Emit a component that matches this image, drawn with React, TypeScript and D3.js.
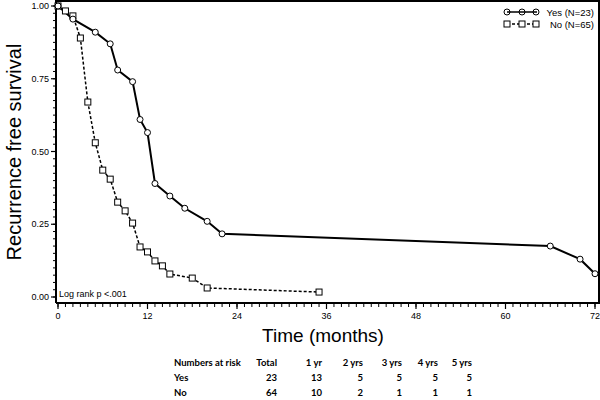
import React from "react";
import * as d3 from "d3";

const yesTime = [0, 2, 5, 7, 8, 10, 11, 12, 13, 15, 17, 20, 22, 66, 70, 72];
const yesSurv = [1.0, 0.955, 0.91, 0.87, 0.78, 0.74, 0.61, 0.565, 0.39, 0.347, 0.305, 0.26, 0.217, 0.175, 0.13, 0.08];
const noTime = [0, 1, 2, 3, 4, 5, 6, 7, 8, 9, 10, 11, 12, 13, 14, 15, 18, 20, 35];
const noSurv = [1.0, 0.983, 0.966, 0.89, 0.67, 0.53, 0.436, 0.405, 0.326, 0.296, 0.254, 0.172, 0.155, 0.124, 0.107, 0.079, 0.065, 0.031, 0.017];

const xTicks = [0, 12, 24, 36, 48, 60, 72];
const yTicks = [0, 0.25, 0.5, 0.75, 1.0];
const yTickLabels = ["0.00", "0.25", "0.50", "0.75", "1.00"];

const legendLabels = ["Yes (N=23)", "No (N=65)"];
const riskHeaders = ["Total", "1 yr", "2 yrs", "3 yrs", "4 yrs", "5 yrs"];
const riskGroups = ["Yes", "No"];
const riskYes = [23, 13, 5, 5, 5, 5];
const riskNo = [64, 10, 2, 1, 1, 1];

export default function App() {
  const x = d3.scaleLinear().domain([0, 72]).range([58, 595]);
  const y = d3.scaleLinear().domain([0, 1]).range([297, 6]);
  const yesPts = yesTime.map((t, i) => [t, yesSurv[i]] as [number, number]);
  const noPts = noTime.map((t, i) => [t, noSurv[i]] as [number, number]);
  const line = d3.line<[number, number]>().x((d) => x(d[0])).y((d) => y(d[1]));

  const minorX = d3.range(0, 73, 1);
  const minorY = d3.range(0, 1.0001, 0.025);
  const axisFont = "'Liberation Sans', Arial, sans-serif";
  const tableFont = "Lato, 'Open Sans', sans-serif";
  const colRight = [277, 322, 363, 402, 438, 472];
  const rows = [riskYes, riskNo];

  const frameL = 56, frameR = 599, frameT = 1, frameB = 303;

  return (
    <svg width={600} height={400} style={{ position: "absolute", left: 0, top: 0, background: "#fff" }}>
      <rect x={0} y={0} width={600} height={400} fill="#fff" />
      {/* frame */}
      <path d={`M${frameL},${frameB}V${frameT}H${frameR}V${frameB}H${frameL}`} fill="none" stroke="#000" strokeWidth={2} />
      {/* y ticks */}
      {minorY.map((v, i) => (
        <line key={"my" + i} x1={frameL} x2={frameL - 3} y1={y(v)} y2={y(v)} stroke="#000" strokeWidth={1} />
      ))}
      {yTicks.map((v, i) => (
        <g key={"yt" + i}>
          <line x1={frameL} x2={frameL - 5} y1={y(v)} y2={y(v)} stroke="#000" strokeWidth={1.2} />
          <text x={49} y={y(v) + 3} textAnchor="end" fontSize={9} fontFamily={axisFont} fill="#000">
            {yTickLabels[i]}
          </text>
        </g>
      ))}
      {/* x ticks */}
      {minorX.map((v, i) => (
        <line key={"mx" + i} x1={x(v)} x2={x(v)} y1={frameB} y2={frameB + 4} stroke="#000" strokeWidth={1} />
      ))}
      {xTicks.map((v, i) => (
        <g key={"xt" + i}>
          <line x1={x(v)} x2={x(v)} y1={frameB} y2={frameB + 6} stroke="#000" strokeWidth={1.2} />
          <text x={x(v)} y={319} textAnchor="middle" fontSize={9} fontFamily={axisFont} fill="#000">
            {v}
          </text>
        </g>
      ))}
      {/* axis titles */}
      <text x={323} y={342} textAnchor="middle" fontSize={19} fontFamily={axisFont} fill="#000">
        Time (months)
      </text>
      <text transform="translate(21,152) rotate(-90)" textAnchor="middle" fontSize={20} fontFamily={axisFont} fill="#000">
        Recurrence free survival
      </text>
      {/* curves */}
      <path d={line(noPts) || ""} fill="none" stroke="#000" strokeWidth={1.5} strokeDasharray="3,2" />
      <path d={line(yesPts) || ""} fill="none" stroke="#000" strokeWidth={2} />
      {noPts.map((d, i) => (
        <rect key={"np" + i} x={x(d[0]) - 3} y={y(d[1]) - 3} width={6} height={6} fill="#fff" stroke="#000" strokeWidth={1} />
      ))}
      {yesPts.map((d, i) => (
        <circle key={"yp" + i} cx={x(d[0])} cy={y(d[1])} r={3} fill="#fff" stroke="#000" strokeWidth={1} />
      ))}
      {/* log rank */}
      <text x={59} y={297} fontSize={9} fontFamily={axisFont} fill="#000">
        Log rank p {"<"}.001
      </text>
      {/* legend */}
      <g>
        <line x1={507} x2={537} y1={12} y2={12} stroke="#000" strokeWidth={1.5} />
        {[507, 522, 536].map((cx, i) => (
          <circle key={"lc" + i} cx={cx} cy={12} r={3} fill="none" stroke="#000" strokeWidth={1} />
        ))}
        <line x1={507} x2={537} y1={24} y2={24} stroke="#000" strokeWidth={1.5} strokeDasharray="3,2" />
        {[507, 522, 536].map((cx, i) => (
          <rect key={"lr" + i} x={cx - 3} y={21} width={6} height={6} fill="#fff" stroke="#000" strokeWidth={1} />
        ))}
        {legendLabels.map((l, i) => (
          <text key={"ll" + i} x={594} y={15.5 + i * 12} textAnchor="end" fontSize={9.5} fontFamily={axisFont} fill="#000">
            {l}
          </text>
        ))}
      </g>
      {/* risk table */}
      <g fontFamily={tableFont} fontWeight={700} fontSize={9.5} fill="#000">
        <text x={174} y={366}>Numbers at risk</text>
        {riskHeaders.map((h, i) => (
          <text key={"rh" + i} x={colRight[i]} y={366} textAnchor="end">
            {h}
          </text>
        ))}
        {riskGroups.map((g, r) => (
          <g key={"rg" + r}>
            <text x={174} y={381 + r * 15}>{g}</text>
            {rows[r].map((v, i) => (
              <text key={"rv" + i} x={colRight[i]} y={381 + r * 15} textAnchor="end">
                {v}
              </text>
            ))}
          </g>
        ))}
      </g>
    </svg>
  );
}
